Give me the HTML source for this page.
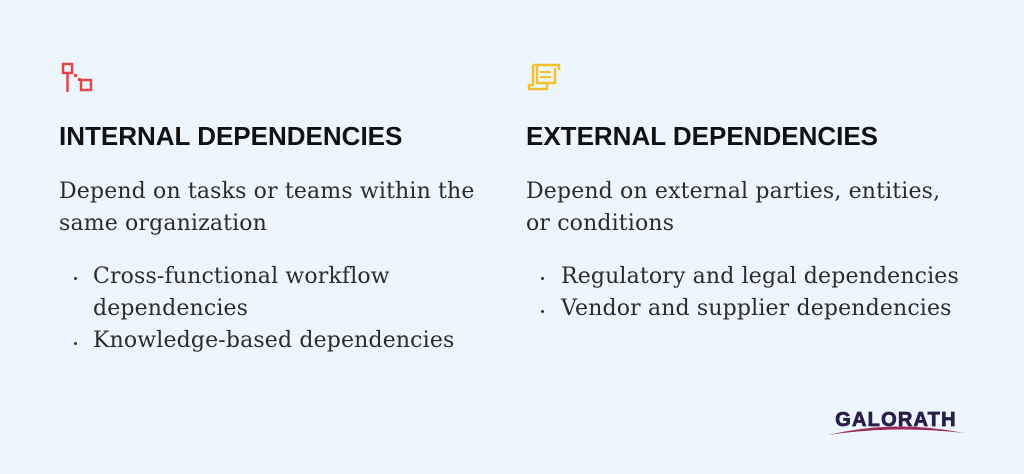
<!DOCTYPE html>
<html><head><meta charset="utf-8"><style>
html,body{margin:0;padding:0}
body{width:1024px;height:474px;background:#eef6fd;position:relative;overflow:hidden}
.h{position:absolute;font-family:"Liberation Sans",sans-serif;font-weight:bold;font-size:26px;color:#111;white-space:nowrap;line-height:28px}
.t,.b{position:absolute;font-family:"DejaVu Serif","Liberation Serif",serif;font-size:22px;color:#2b2b2b;line-height:32px;white-space:nowrap;letter-spacing:0.15px}
.dot{position:absolute;width:3px;height:3px;background:#333;border-radius:50%}
</style></head><body>
<svg style="position:absolute;left:0;top:0" width="1024" height="474">
 <g fill="none" stroke="#e04848" stroke-width="2.5">
  <rect x="63" y="64" width="9" height="9"/>
  <line x1="67.5" y1="73" x2="67.5" y2="92"/>
  <rect x="81" y="80" width="10" height="10"/>
 </g>
 <rect x="74" y="74" width="3" height="3" fill="#e04848"/>
 <rect x="78" y="78" width="3" height="3" fill="#e04848"/>
 <g fill="none" stroke="#f2c12e" stroke-width="2.5">
  <path d="M533 65 h26 v5 M533 65 v20 h-4 v4 h18 v-6"/>
  <path d="M537 66 v17 h18 v-15"/>
 </g>
 <g stroke="#f2c12e" stroke-width="2"><line x1="540" y1="72" x2="551" y2="72"/><line x1="540" y1="77" x2="551" y2="77"/></g>
 <path d="M828 435 Q895 419 964 433 Q895 425 828 435 Z" fill="#9a2a5a"/>
 <text x="896" y="426" text-anchor="middle" font-family="Liberation Sans,sans-serif" font-weight="bold" font-size="20" fill="#2a1f4a" stroke="#2a1f4a" stroke-width="0.8" letter-spacing="1.2">GALORATH</text>
</svg>
<div class="h" style="left:59px;top:122px">INTERNAL DEPENDENCIES</div>
<div class="t" style="left:59px;top:176px">Depend on tasks or teams within the<br>same organization</div>
<div class="dot" style="left:74px;top:277px"></div>
<div class="b" style="left:93px;top:261px">Cross-functional workflow<br>dependencies</div>
<div class="dot" style="left:74px;top:342px"></div>
<div class="b" style="left:93px;top:325px">Knowledge-based dependencies</div>
<div class="h" style="left:526px;top:122px">EXTERNAL DEPENDENCIES</div>
<div class="t" style="left:526px;top:176px">Depend on external parties, entities,<br>or conditions</div>
<div class="dot" style="left:541px;top:277px"></div>
<div class="b" style="left:561px;top:261px">Regulatory and legal dependencies</div>
<div class="dot" style="left:541px;top:310px"></div>
<div class="b" style="left:561px;top:293px">Vendor and supplier dependencies</div>
</body></html>
